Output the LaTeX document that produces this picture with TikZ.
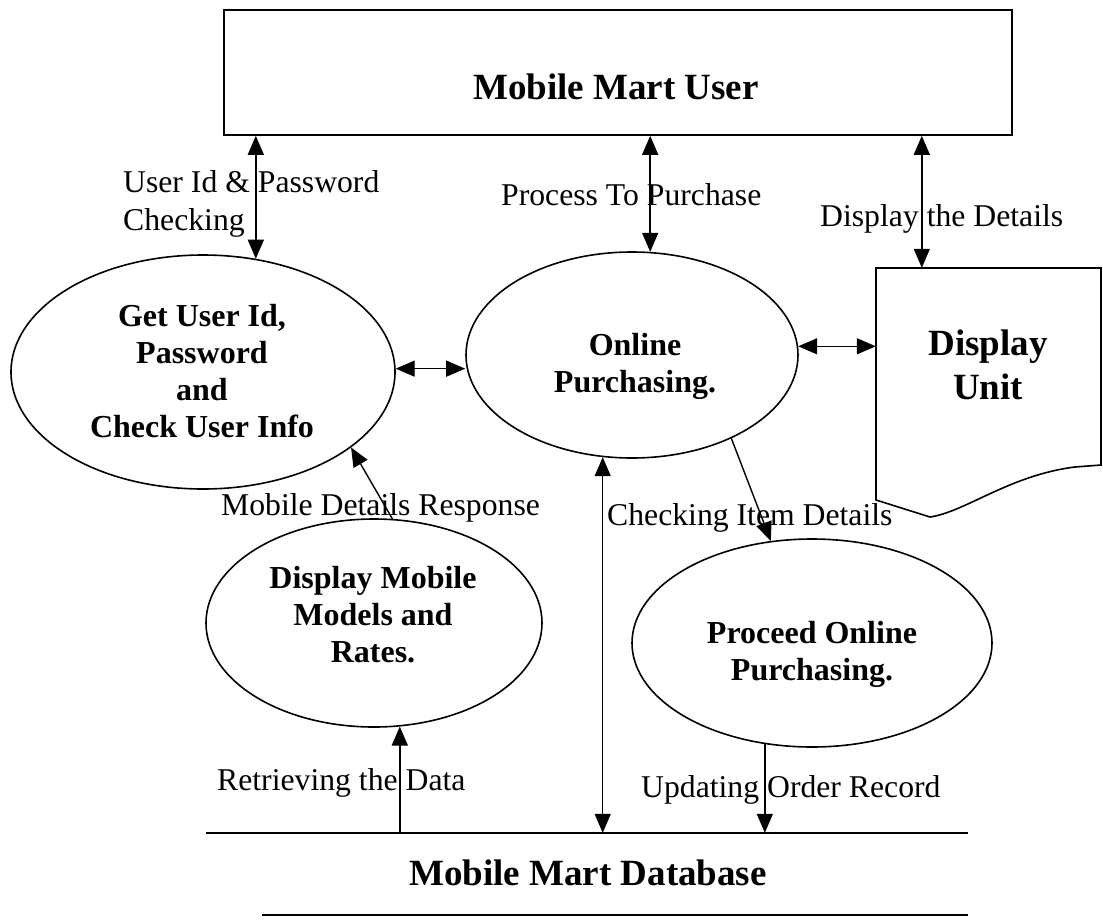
\documentclass[tikz,border=0pt]{standalone}
\usepackage{fontspec}
\setmainfont{Liberation Serif}
\usetikzlibrary{arrows.meta,calc,shapes.geometric}
\begin{document}
\begin{tikzpicture}[x=1pt,y=-1pt,
  >={Triangle[length=19pt,width=16pt]},
  proc/.style={draw, ellipse, line width=1.6pt, inner sep=0pt},
  area/.style={inner sep=0pt},
  flow/.style={line width=1.4pt, ->},
  dflow/.style={line width=1.4pt, <->},
  lbl/.style={font=\fontsize{31.7}{38}\selectfont, inner sep=0pt},
  ptext/.style={font=\bfseries\fontsize{32}{37}\selectfont, align=center, inner sep=0pt},
  big/.style={font=\bfseries\fontsize{37}{44}\selectfont, align=center, inner sep=0pt},
  dbline/.style={line width=2.4pt}]
\useasboundingbox (0,0) rectangle (1103,919);

% external entity
\node[draw, line width=1.6pt, minimum width=788pt, minimum height=125pt, inner sep=0pt] (user) at (618,72.5) {};
\node[big, anchor=base] (usert) at (616,99) {Mobile Mart User};

% processes
\node[proc, minimum width=384pt, minimum height=234pt] (e1) at (203,372) {};
\node[ptext, anchor=north] (e1t) at (202,304.5) {Get User Id,\\Password\\and\\Check User Info};

\node[proc, minimum width=332pt, minimum height=206pt] (e2) at (632,355) {};
\node[ptext, anchor=north] (e2t) at (635,333.5) {Online\\Purchasing.};

\node[proc, minimum width=336pt, minimum height=208pt] (e3) at (374,623) {};
\node[ptext, anchor=north] (e3t) at (373,566) {Display Mobile\\Models and\\Rates.};

\node[proc, minimum width=360pt, minimum height=208pt] (e4) at (812,643) {};
\node[ptext, anchor=north] (e4t) at (812,621.5) {Proceed Online\\Purchasing.};

% display unit (document shape)
\node[area, minimum width=225pt, minimum height=249pt] (disp) at (988.5,392.5) {};
\draw[line width=1.6pt] (876,500) -- (876,268) -- (1101,268) -- (1101,465) -- (1075,467)
  .. controls (1010,475) and (965,512) .. (930,517) -- cycle;
\node[big, anchor=north] (dispt) at (988,330) {Display\\Unit};

% data store
\node[area, minimum width=762pt, minimum height=82pt] (db) at (587,874) {};
\draw[dbline] (db.north west) -- (db.north east);
\draw[dbline] ($(db.south west)+(56,0)$) -- (db.south east);
\node[big, anchor=base] (dbt) at (588,885) {Mobile Mart Database};

% data flows
\coordinate (d3) at ($(disp.north west)+(46,0)$);
\draw[dflow] (e1.65.3 |- user.south) -- (e1.65.3);
\draw[dflow] (e2.80.6 |- user.south) -- (e2.80.6);
\draw[dflow] (d3 |- user.south) -- (d3);
\draw[dflow] (e1.1.2) -- (e1.1.2 -| e2.west);
\draw[dflow] (e2.3.4) -- (e2.3.4 -| disp.west);
\draw[flow] (e3.80.1) -- (e1.333.1);
\draw[flow] (e2.320.6) -- (e4.112.6);
\draw[flow] (db.north -| e3.284.7) -- (e3.284.7);
\draw[dflow] (e2.254.6) -- (db.north -| e2.254.6);
\draw[flow] (e4.245.4) -- (db.north -| e4.245.4);

% flow labels
\node[lbl, anchor=north west, align=left] (l1) at (123,170) {User Id \& Password\\Checking};
\node[lbl, anchor=base west] (l2) at (501,205) {Process To Purchase};
\node[lbl, anchor=base west] (l3) at (820,226) {Display the Details};
\node[lbl, anchor=base west] (l4) at (221,515) {Mobile Details Response};
\node[lbl, anchor=base west] (l5) at (607,525) {Checking Item Details};
\node[lbl, anchor=base west] (l6) at (217,790) {Retrieving the Data};
\node[lbl, anchor=base west] (l7) at (641,797) {Updating Order Record};
\end{tikzpicture}
\end{document}
